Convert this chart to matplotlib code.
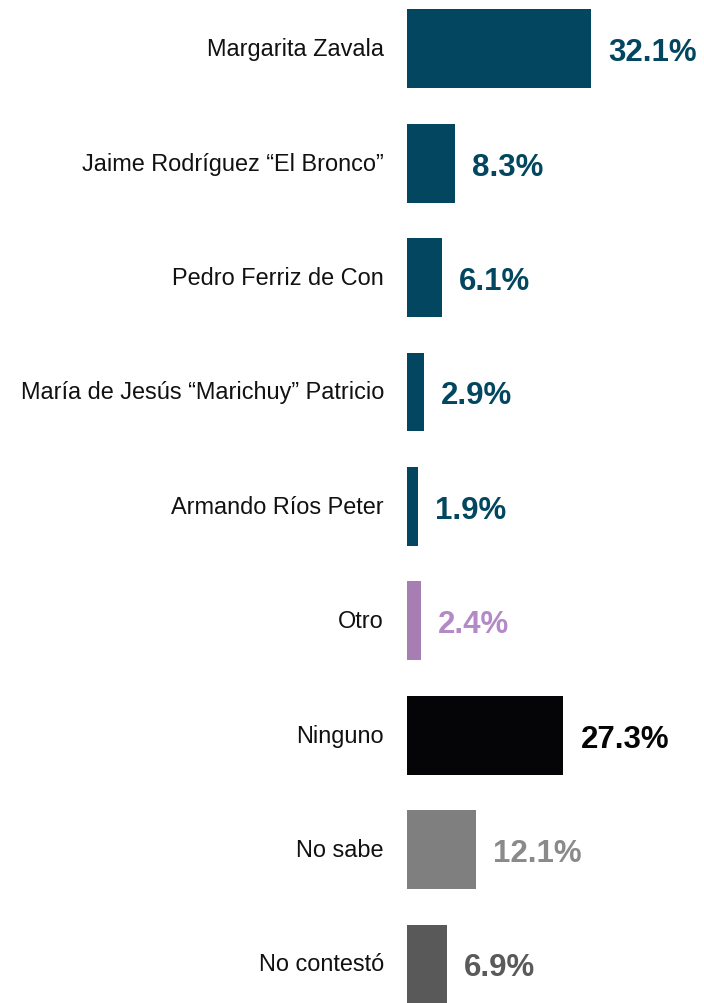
import matplotlib.pyplot as plt

plt.rcParams["font.family"] = ["Liberation Sans", "DejaVu Sans"]

candidates = [
    "Margarita Zavala",
    "Jaime Rodríguez “El Bronco”",
    "Pedro Ferriz de Con",
    "María de Jesús “Marichuy” Patricio",
    "Armando Ríos Peter",
    "Otro",
    "Ninguno",
    "No sabe",
    "No contestó",
]
shares = [32.1, 8.3, 6.1, 2.9, 1.9, 2.4, 27.3, 12.1, 6.9]

NAVY = "#02475f"
bar_colors = [NAVY] * 5 + ["#a77eb3", "#050507", "#7f7f7f", "#595959"]
text_colors = [NAVY] * 5 + ["#b48ac6", "#050507", "#8a8a8a", "#5a5a5a"]

DPI = 100
fig = plt.figure(figsize=(7.04, 10.04), dpi=DPI)
# bars start at x=407px, 5.73 px per percentage point
left = 407 / 704
ax = fig.add_axes([left, 0, 1 - left, 1])
ax.set_xlim(0, (704 - 407) / 5.73)
step, first = 114.4, 49.8
ax.set_ylim((1004 - first) / step, -first / step)
ax.axis("off")

ypos = list(range(len(candidates)))
ax.barh(ypos, shares, height=0.69, color=bar_colors)

for y, name, v, tc in zip(ypos, candidates, shares, text_colors):
    ax.annotate(name, (0, y), xytext=(-23 * 72 / DPI, 0), textcoords="offset points",
                ha="right", va="center", fontsize=16.9, color="#111111",
                annotation_clip=False)
    ax.annotate(f"{v:.1f}%", (v, y), xytext=(17 * 72 / DPI, -2.5), textcoords="offset points",
                ha="left", va="center", fontsize=22.5, fontweight="bold", color=tc,
                annotation_clip=False)

fig.savefig("out.png", dpi=DPI)
